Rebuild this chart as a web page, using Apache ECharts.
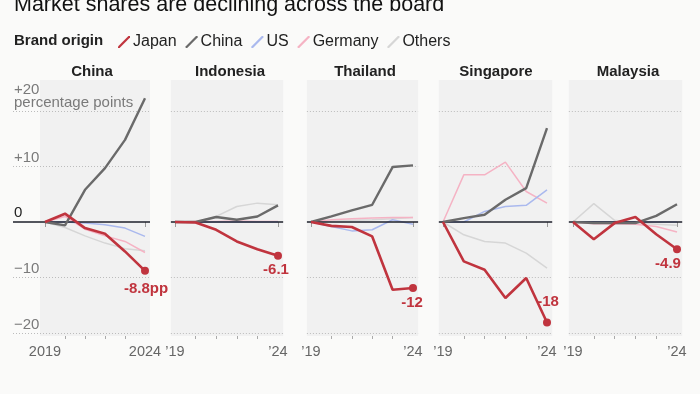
<!DOCTYPE html>
<html>
<head>
<meta charset="utf-8">
<script src="https://cdn.jsdelivr.net/npm/echarts@6/dist/echarts.min.js"></script>
<style>
html,body{margin:0;padding:0;background:#fafaf9;}
#c{width:700px;height:394px;}
</style>
</head>
<body>
<div id="c"></div>
<script>
// ---- data ----
const years = [2019, 2020, 2021, 2022, 2023, 2024];
const markets = ['China', 'Indonesia', 'Thailand', 'Singapore', 'Malaysia'];
const brands = ['Japan', 'China', 'US', 'Germany', 'Others'];

const japan   = [[0, 1.5, -1.1, -2.1, -5.3, -8.8],
                 [0, -0.1, -1.4, -3.5, -4.9, -6.1],
                 [0, -0.7, -0.9, -2.6, -12.2, -11.9],
                 [0, -7.1, -8.6, -13.7, -10.1, -18.1],
                 [0, -3.1, -0.2, 0.9, -2.2, -4.9]];
const china   = [[0, -0.6, 5.8, 9.7, 14.8, 22.3],
                 [0, 0, 0.9, 0.4, 1.0, 3.0],
                 [0, 1.0, 2.1, 3.1, 9.9, 10.2],
                 [0, 0.7, 1.3, 4.0, 6.1, 16.9],
                 [0, -0.2, -0.2, -0.2, 1.1, 3.2]];
const us      = [[0, 0, -0.2, -0.5, -1.1, -2.6],
                 [0, 0, 0, 0, 0, 0],
                 [0, -0.8, -1.6, -1.4, 0.4, -0.4],
                 [0, 0, 1.9, 2.8, 3.0, 5.8],
                 [0, 0, 0, 0, 0, 0]];
const germany = [[0, 1.0, -1.3, -2.5, -3.5, -5.5],
                 [0, 0.1, 0.1, 0.2, 0.1, 0.1],
                 [0, 0.4, 0.6, 0.7, 0.8, 0.8],
                 [0, 8.5, 8.5, 10.8, 5.5, 3.4],
                 [0, -0.3, -0.3, -0.4, -0.8, -1.8]];
const others  = [[0, -1.0, -2.5, -3.8, -4.8, -5.2],
                 [0, 0, 1.0, 2.8, 3.4, 3.1],
                 [0, 0.2, 0.3, 0.4, 0.6, 0.8],
                 [0, -2.3, -3.5, -3.8, -5.6, -8.3],
                 [0, 3.3, 0.3, -0.2, -0.4, -0.6]];
const endLabels = ['-8.8pp', '-6.1', '-12', '-18', '-4.9'];
const yTickValues = [20, 10, -10, -20];
const yTickLabels = ['+20\npercentage points', '+10', '\u221210', '\u221220'];
const zeroLabel = '0';
const xLabelsFull = ['2019', '2024'];
const xLabelsShort = ['\u201919', '\u201924'];

// ---- styling / layout ----
const FONT = '"Liberation Sans", Arial, sans-serif';
const colors = {Japan: '#c0343e', China: '#6a6a6a', US: '#aab9ee', Germany: '#f5b3c4', Others: '#d6d6d6'};
const widths = {Japan: 2.6, China: 2.4, US: 1.5, Germany: 1.5, Others: 1.5};
const zs = {Japan: 6, China: 5, US: 3, Germany: 2, Others: 2};
const pStart = [45, 175, 311, 443, 573];
const pEnd = [145, 278, 413, 547, 677];
const titleCenters = [92, 230, 365, 496, 628];
const gridTop = 80, gridBottomPx = 336;
const zeroPx = 222, pxPerUnit = 5.55;
const yMax = (zeroPx - gridTop) / pxPerUnit;
const yMin = -(gridBottomPx - zeroPx) / pxPerUnit;
const endLabelPos = [
  {position: 'bottom', distance: 7, offset: [1, 0]},
  {position: 'bottom', distance: 3, offset: [-2, 0]},
  {position: 'bottom', distance: 3, offset: [-1, 0]},
  {position: 'top', distance: 9, offset: [1, 0]},
  {position: 'bottom', distance: 3, offset: [-9, 0]}
];

const grids = [], xAxes = [], yAxes = [], series = [];
const titles = [
  {text: 'Market shares are declining across the board', left: 14, top: -6, padding: 0,
   textStyle: {fontFamily: FONT, fontSize: 21.5, fontWeight: 'normal', color: '#111'}},
  {text: 'Brand origin', left: 14, top: 33, padding: 0,
   textStyle: {fontFamily: FONT, fontSize: 15, fontWeight: 'bold', color: '#222'}}
];
const seriesData = {Japan: japan, China: china, US: us, Germany: germany, Others: others};

markets.forEach((m, i) => {
  const ppy = (pEnd[i] - pStart[i]) / (years.length - 1);
  const xMin = i === 0 ? years[0] - (pStart[i] - 13) / ppy : years[0] - 0.2;
  const xMax = years[years.length - 1] + 0.25;
  const left = pStart[i] - (years[0] - xMin) * ppy;
  const width = (xMax - xMin) * ppy;
  grids.push({left: left, width: width, top: gridTop, height: gridBottomPx - gridTop});
  titles.push({text: m, left: titleCenters[i], top: 64, padding: 0, textAlign: 'center',
    textStyle: {fontFamily: FONT, fontSize: 15, fontWeight: 'bold', color: '#222'}});
  const labs = i === 0 ? xLabelsFull : xLabelsShort;
  const common = {type: 'value', gridIndex: i, min: xMin, max: xMax, position: 'bottom',
    axisLine: {show: false}, splitLine: {show: false}};
  xAxes.push(Object.assign({}, common, {
    axisTick: {show: true, length: 5, lineStyle: {color: '#999', width: 1},
      customValues: [years[0], years[years.length - 1]]},
    axisLabel: {show: true, customValues: [years[0], years[years.length - 1]], margin: 8,
      fontFamily: FONT, fontSize: 14.5, color: '#666',
      formatter: v => (v === years[0] ? labs[0] : labs[1])}
  }));
  xAxes.push(Object.assign({}, common, {
    axisTick: {show: true, length: 3, lineStyle: {color: '#aaa', width: 1},
      customValues: years.slice(1, -1)},
    axisLabel: {show: false}
  }));
  yAxes.push({type: 'value', gridIndex: i, min: yMin, max: yMax,
    axisLine: {show: false}, axisTick: {show: false}, axisLabel: {show: false}, splitLine: {show: false}});

  brands.slice().reverse().forEach(b => {
    const vals = seriesData[b][i];
    const data = vals.map((v, k) => [years[k], v]);
    const s = {
      type: 'line', name: b, xAxisIndex: i * 2, yAxisIndex: i,
      data: data, symbol: 'none', showSymbol: true, silent: true, z: zs[b],
      color: colors[b],
      lineStyle: {color: colors[b], width: widths[b]},
      emphasis: {disabled: true}
    };
    if (b === 'Japan') {
      const last = data.length - 1;
      data[last] = {value: data[last], symbol: 'circle', symbolSize: 8,
        itemStyle: {color: colors.Japan},
        label: Object.assign({show: true, formatter: endLabels[i], fontFamily: FONT,
          fontSize: 15, fontWeight: 'bold', color: colors.Japan}, endLabelPos[i])};
    }
    if (b === 'Others') {
      s.markArea = {silent: true, z: 0, itemStyle: {color: '#f1f1f1'},
        data: [[{xAxis: i === 0 ? years[0] - 0.25 : xMin}, {xAxis: xMax}]]};
      s.markLine = {silent: true, symbol: 'none', z: 1, animation: false,
        lineStyle: {color: '#bcbcbc', type: [1, 2], width: 1},
        label: {show: i === 0, position: 'insideStartTop', distance: [1, 2],
          fontFamily: FONT, fontSize: 15, lineHeight: 13, color: '#7a7a7a', align: 'left'},
        data: yTickValues.map((v, k) => ({yAxis: v, label: {formatter: yTickLabels[k]}}))};
    }
    if (b === 'US') {
      s.markLine = {silent: true, symbol: 'none', z: 4, animation: false,
        lineStyle: {color: '#1c1f2a', type: 'solid', width: 1.6},
        label: {show: i === 0, position: 'insideStartTop', distance: [1, 2],
          fontFamily: FONT, fontSize: 15, color: '#222', formatter: zeroLabel},
        data: [{yAxis: 0}]};
    }
    series.push(s);
  });
});

const chart = echarts.init(document.getElementById('c'), null, {renderer: 'canvas'});
chart.setOption({
  backgroundColor: '#fafaf9',
  animation: false,
  title: titles,
  legend: {
    data: brands, left: 118, top: 34, padding: 0, itemWidth: 12, itemHeight: 12, itemGap: 9,
    icon: 'path://M0,12 L1.6,12 L12,1.6 L12,0 L10.4,0 L0,10.4 Z',
    textStyle: {fontFamily: FONT, fontSize: 16, color: '#222', padding: [0, 0, 0, -2]},
    selectedMode: false
  },
  grid: grids,
  xAxis: xAxes,
  yAxis: yAxes,
  series: series
});
</script>
</body>
</html>
